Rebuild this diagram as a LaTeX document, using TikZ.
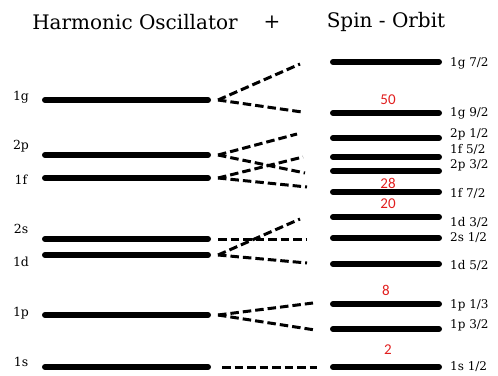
\documentclass[tikz,border=0pt]{standalone}
\usepackage{fontspec}
\setmainfont{DejaVu Serif}
\newfontfamily\magicfont{Carlito}
\definecolor{magicred}{RGB}{225,30,30}
\begin{document}
\begin{tikzpicture}[x=1pt,y=-1pt,
  level/.style={line width=6pt,line cap=round},
  split/.style={line width=3pt,dash pattern=on 8.5pt off 4pt},
  lab/.style={font=\fontsize{12.5}{12.5}\selectfont,inner sep=0pt},
  rlab/.style={font=\fontsize{12}{12}\selectfont,inner sep=0pt,anchor=west},
  magic/.style={font=\magicfont\fontsize{15}{15}\selectfont,text=magicred,inner sep=0pt},
  title/.style={font=\fontsize{20}{20}\selectfont,inner sep=0pt}]
\useasboundingbox (0,0) rectangle (498,375);
% titles
\node[title] (t1) at (135,22) {Harmonic Oscillator};
\node[title] (t2) at (272,22) {+};
\node[title] (t3) at (386,22) {Spin - Orbit};
% left levels
\foreach \n/\y in {1g/100,2p/155,1f/178,2s/239,1d/255,1p/315,1s/367}{
  \coordinate (HL\n) at (45,\y);
  \coordinate (HR\n) at (208,\y);
  \coordinate (HS\n) at (218,\y);
  \draw[level] (HL\n) -- (HR\n);
}
\node[lab] (l1g) at (21,97) {1g};
\node[lab] (l2p) at (21,146) {2p};
\node[lab] (l1f) at (21,180) {1f};
\node[lab] (l2s) at (21,229) {2s};
\node[lab] (l1d) at (21,262) {1d};
\node[lab] (l1p) at (21,313) {1p};
\node[lab] (l1s) at (21,362) {1s};
% right levels
\foreach \n/\y in {a/62,b/113,c/138,d/157,e/171,f/192,g/217,h/238,i/264,j/304,k/329,l/367}{
  \coordinate (SL\n) at (333,\y);
  \coordinate (SR\n) at (439,\y);
  \draw[level] (SL\n) -- (SR\n);
}
\node[rlab] (ra) at (450,63) {1g 7/2};
\node[rlab] (rb) at (450,113) {1g 9/2};
\node[rlab] (rc) at (450,134) {2p 1/2};
\node[rlab] (rd) at (450,149) {1f 5/2};
\node[rlab] (re) at (450,165) {2p 3/2};
\node[rlab] (rf) at (450,193) {1f 7/2};
\node[rlab] (rg) at (450,222) {1d 3/2};
\node[rlab] (rh) at (450,238) {2s 1/2};
\node[rlab] (ri) at (450,265) {1d 5/2};
\node[rlab] (rj) at (450,305) {1p 1/3};
\node[rlab] (rk) at (450,325) {1p 3/2};
\node[rlab] (rl) at (450,367) {1s 1/2};
% magic numbers
\node[magic] (m50) at (388,100) {50};
\node[magic] (m28) at (388,183) {28};
\node[magic] (m20) at (388,204) {20};
\node[magic] (m8) at (386,290) {8};
\node[magic] (m2) at (388,350) {2};
% splitting connectors
\coordinate (e1ga) at (300,64);
\coordinate (e1gb) at (302,112);
\coordinate (e2pa) at (297,134);
\coordinate (e2pb) at (305,173);
\coordinate (e1fa) at (303,157);
\coordinate (e1fb) at (307,187);
\coordinate (e2sa) at (307,239);
\coordinate (e1da) at (300,219);
\coordinate (e1db) at (307,263);
\coordinate (e1pa) at (313,303);
\coordinate (e1pb) at (315,330);
\coordinate (e1sa) at (317,367);
\coordinate (HS1s') at (222,367);
\draw[split] (HS1g) -- (e1ga);
\draw[split] (HS1g) -- (e1gb);
\draw[split] (HS2p) -- (e2pa);
\draw[split] (HS2p) -- (e2pb);
\draw[split] (HS1f) -- (e1fa);
\draw[split] (HS1f) -- (e1fb);
\draw[split] (HS2s) -- (e2sa);
\draw[split] (HS1d) -- (e1da);
\draw[split] (HS1d) -- (e1db);
\draw[split] (HS1p) -- (e1pa);
\draw[split] (HS1p) -- (e1pb);
\draw[split] (HS1s') -- (e1sa);
\end{tikzpicture}
\end{document}
